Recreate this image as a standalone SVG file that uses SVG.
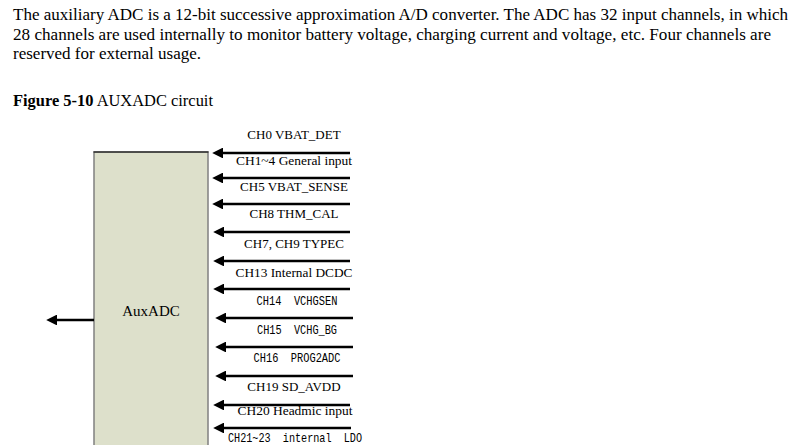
<svg xmlns="http://www.w3.org/2000/svg" width="800" height="445" viewBox="0 0 800 445">
<defs>
<marker id="ah" viewBox="0 0 10 10" refX="0" refY="5" markerWidth="5.5" markerHeight="4" orient="auto-start-reverse" markerUnits="strokeWidth">
<path d="M0,0 L10,5 L0,10 Z" fill="#000"/>
</marker>
<style>
.p{font-family:"Liberation Serif","Times New Roman",serif;font-size:16px;fill:#000}
.l{font-family:"Liberation Serif","Times New Roman",serif;font-size:13px;fill:#000;text-anchor:middle}
.m{font-family:"Liberation Mono","Courier New",monospace;font-size:13.5px;fill:#000;text-anchor:middle}
.w{stroke:#000;stroke-width:2.7;fill:none;marker-end:url(#ah)}
</style>
</defs>
<rect width="800" height="445" fill="#fff"/>
<g id="intro">
<text class="p" x="13" y="20" textLength="775" lengthAdjust="spacingAndGlyphs">The auxiliary ADC is a 12-bit successive approximation A/D converter. The ADC has 32 input channels, in which</text>
<text class="p" x="13" y="40" textLength="758" lengthAdjust="spacingAndGlyphs">28 channels are used internally to monitor battery voltage, charging current and voltage, etc. Four channels are</text>
<text class="p" x="13" y="59" textLength="188" lengthAdjust="spacingAndGlyphs">reserved for external usage.</text>
</g>
<g id="caption">
<text class="p" x="13" y="106" textLength="200" lengthAdjust="spacingAndGlyphs"><tspan font-weight="bold">Figure 5-10</tspan> AUXADC circuit</text>
</g>
<g id="auxadc">
<rect x="94" y="152" width="114" height="300" fill="#dde0cb" stroke="#808080" stroke-width="1.5"/>
<line x1="93.5" y1="152" x2="208.5" y2="152" stroke="#000" stroke-width="1.2"/>
<text class="l" x="151" y="316" style="font-size:15px">AuxADC</text>
</g>
<g id="connectors">
<line class="w" x1="94" y1="320" x2="57" y2="320"/>
<line class="w" x1="350" y1="153" x2="223" y2="153"/>
<line class="w" x1="350" y1="178" x2="223" y2="178"/>
<line class="w" x1="350" y1="204" x2="223" y2="204"/>
<line class="w" x1="350" y1="232" x2="224" y2="232"/>
<line class="w" x1="350" y1="261" x2="224" y2="261"/>
<line class="w" x1="350" y1="289" x2="224" y2="289"/>
<line class="w" x1="353" y1="318" x2="226" y2="318"/>
<line class="w" x1="353" y1="347" x2="226" y2="347"/>
<line class="w" x1="353" y1="376" x2="226" y2="376"/>
<line class="w" x1="350" y1="405" x2="224" y2="405"/>
<line class="w" x1="351" y1="428" x2="224" y2="428"/>
</g>
<g id="labels">
<text class="l" x="294" y="139">CH0 VBAT_DET</text>
<text class="l" x="294" y="165" textLength="116" lengthAdjust="spacingAndGlyphs">CH1~4 General input</text>
<text class="l" x="294" y="191">CH5 VBAT_SENSE</text>
<text class="l" x="294" y="218">CH8 THM_CAL</text>
<text class="l" x="294" y="248">CH7, CH9 TYPEC</text>
<text class="l" x="294" y="277" textLength="117" lengthAdjust="spacingAndGlyphs">CH13 Internal DCDC</text>
<text class="m" x="297" y="305" textLength="81" lengthAdjust="spacingAndGlyphs" xml:space="preserve">CH14  VCHGSEN</text>
<text class="m" x="297" y="334" textLength="80" lengthAdjust="spacingAndGlyphs" xml:space="preserve">CH15  VCHG_BG</text>
<text class="m" x="297" y="362" textLength="87" lengthAdjust="spacingAndGlyphs" xml:space="preserve">CH16  PROG2ADC</text>
<text class="l" x="294" y="391">CH19 SD_AVDD</text>
<text class="l" x="295" y="415" textLength="115" lengthAdjust="spacingAndGlyphs">CH20 Headmic input</text>
<text class="m" x="295" y="442" textLength="134" lengthAdjust="spacingAndGlyphs" xml:space="preserve">CH21~23  internal  LDO</text>
</g>
</svg>
